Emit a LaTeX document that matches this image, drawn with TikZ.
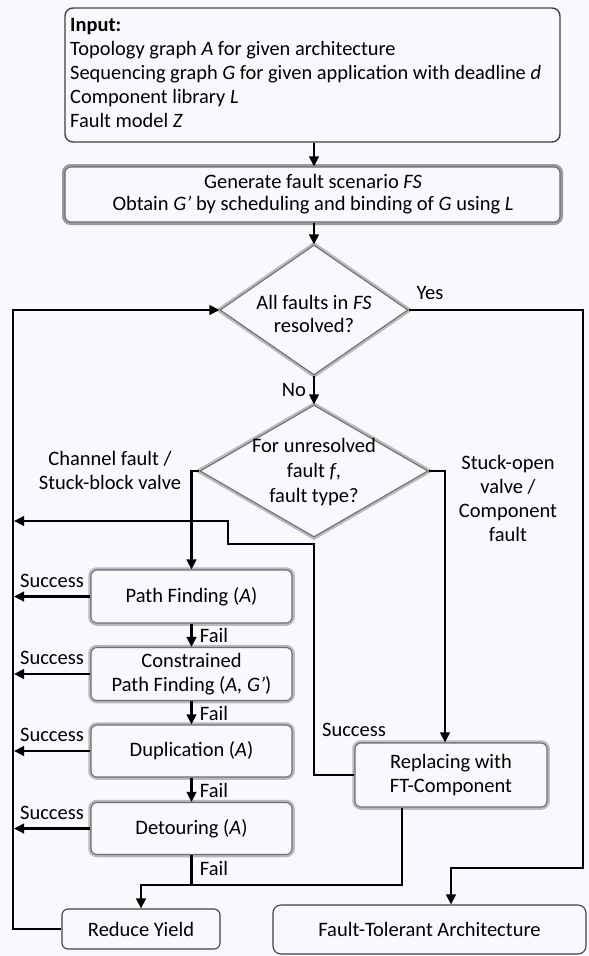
\documentclass[tikz,border=0pt]{standalone}
\usepackage{fontspec}
\setmainfont{Carlito}
\usetikzlibrary{shapes.geometric,arrows.meta}
\definecolor{bgc}{RGB}{248,249,252}
\definecolor{edgegray}{RGB}{110,110,110}
\definecolor{glowgray}{RGB}{185,185,185}
\tikzset{
  conn/.style={line width=2.8pt, draw=black},
  arr/.style={conn, -{Triangle[length=10pt,width=9.5pt]}},
  plainbox/.style={draw=black!75, line width=1.4pt, rounded corners=8pt, fill=bgc, inner sep=0pt, align=center},
  glowbox/.style={draw=edgegray, line width=1.1pt, rounded corners=6pt, fill=bgc, inner sep=0pt, align=center,
    preaction={draw=glowgray, line width=5.5pt}},
  decision/.style={shape=diamond, draw=edgegray, line width=1.1pt, fill=bgc, inner sep=0pt,
    preaction={draw=glowgray, line width=5.5pt}},
  txt/.style={align=center, inner sep=0pt},
}
\begin{document}
\begin{tikzpicture}[x=1pt,y=-1pt, font=\fontsize{20.5}{24}\selectfont]
\path[fill=bgc] (0,0) rectangle (589,956);
\useasboundingbox (0,0) rectangle (589,956);

% boxes
\node[plainbox, minimum width=495pt, minimum height=134pt] (in) at (312.5,75) {};
\node[txt, align=left, anchor=west, font=\fontsize{20.4}{23.8}\selectfont] (intext) at (70,73)
  {\textbf{Input:}\\Topology graph \textit{A} for given architecture\\Sequencing graph \textit{G} for given application with deadline \textit{d}\\Component library \textit{L}\\Fault model \textit{Z}};

\node[glowbox, minimum width=495pt, minimum height=55pt, preaction={draw=black!40, line width=6pt}] (gen) at (312.5,194.5) {};
\node[txt, font=\fontsize{20.5}{22}\selectfont] (gentext) at (313,194.5)
  {Generate fault scenario \textit{FS}\\Obtain \textit{G’} by scheduling and binding of \textit{G} using \textit{L}};

\node[decision, minimum width=188pt, minimum height=130pt] (d1) at (314,310) {};
\node[txt, font=\fontsize{20.5}{23}\selectfont] (d1t) at (314,313.5) {All faults in \textit{FS}\\resolved?};

\node[decision, minimum width=228pt, minimum height=132pt] (d2) at (314,471) {};
\node[txt, font=\fontsize{20.5}{25}\selectfont] (d2t) at (314,472) {For unresolved\\fault \textit{f},\\fault type?};

\node[glowbox, minimum width=201pt, minimum height=53pt] (pf) at (191.5,596.5) {Path Finding (\textit{A})};
\node[glowbox, minimum width=201pt, minimum height=53pt] (cpf) at (191.5,674) {Constrained\\Path Finding (\textit{A, G’})};
\node[glowbox, minimum width=201pt, minimum height=52pt] (dup) at (191.5,751) {Duplication (\textit{A})};
\node[glowbox, minimum width=201pt, minimum height=52pt] (det) at (191.5,828.5) {Detouring (\textit{A})};
\node[glowbox, minimum width=192pt, minimum height=64pt] (rep) at (451,775) {Replacing with\\FT-Component};
\node[plainbox, line width=1.1pt, rounded corners=6pt, minimum width=158pt, minimum height=40pt] (ry) at (141,929) {Reduce Yield};
\node[plainbox, line width=1.1pt, rounded corners=8pt, minimum width=313pt, minimum height=49pt] (fta) at (429.5,929.5) {Fault-Tolerant Architecture};

% labels
\node[txt] (yes) at (430,293) {Yes};
\node[txt] (no) at (294,390) {No};
\node[txt] (chan) at (110,470) {Channel fault /\\Stuck-block valve};
\node[txt, font=\fontsize{20.5}{24.3}\selectfont] (stuck) at (508,498.5) {Stuck-open\\valve /\\Component\\fault};
\node[txt] (s1) at (52,580.5) {Success};
\node[txt] (s2) at (52,658) {Success};
\node[txt] (s3) at (52,735) {Success};
\node[txt] (s4) at (52,812.5) {Success};
\node[txt] (s5) at (354,730) {Success};
\node[txt] (f1) at (214,635) {Fail};
\node[txt] (f2) at (214,713) {Fail};
\node[txt] (f3) at (214,790) {Fail};
\node[txt] (f4) at (214,868) {Fail};

% coordinates
\coordinate (rtop) at (583,310);
\coordinate (rbot) at (583,868);
\coordinate (ftain) at (451,868);
\coordinate (ltop) at (13,310);
\coordinate (lbot) at (13,929);
\coordinate (lb) at (191.5,471);
\coordinate (rb) at (445,471);
\coordinate (m1) at (191.5,885);
\coordinate (m2) at (402,885);
\coordinate (m3) at (141,885);
\coordinate (ra) at (314,775);
\coordinate (rb2) at (314,544);
\coordinate (rc) at (228,544);
\coordinate (rd) at (228,521);
\coordinate (re) at (14,521);
\coordinate (lx) at (14,0);

% connectors
\draw[arr] (in.south -| d1.north) -- (gen.north -| d1.north);
\draw[arr] (gen.south -| d1.north) -- (d1.north);
\draw[arr] (d1.east) -- (rtop) -- (rbot) -- (ftain) -- (ftain |- fta.north);
\draw[arr] (d1.south) -- (d2.north);
\draw[arr] (ry.west) -- (lbot) -- (ltop) -- (d1.west);
\draw[arr] (d2.west) -- (lb) -- (pf.north);
\draw[arr] (d2.east) -- (rb) -- (rb |- rep.north);
\draw[arr] (pf.west) -- (pf.west -| lx);
\draw[arr] (cpf.west) -- (cpf.west -| lx);
\draw[arr] (dup.west) -- (dup.west -| lx);
\draw[arr] (det.west) -- (det.west -| lx);
\draw[arr] (pf.south) -- (cpf.north);
\draw[arr] (cpf.south) -- (dup.north);
\draw[arr] (dup.south) -- (det.north);
\draw[conn] (det.south) -- (m1);
\draw[arr] (rep.south -| m2) -- (m2) -- (m3) -- (ry.north);
\draw[arr] (rep.west) -- (ra) -- (rb2) -- (rc) -- (rd) -- (re);
\end{tikzpicture}
\end{document}
